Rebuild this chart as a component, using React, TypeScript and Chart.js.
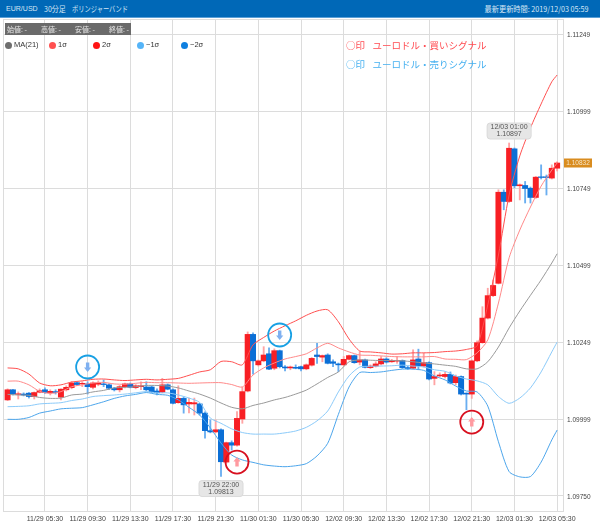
import React, { useEffect, useRef } from "react";
import { Chart, registerables } from "chart.js";

Chart.register(...registerables);

const tickIdx = [7, 15, 23, 31, 39, 47, 55, 63, 71, 79, 87, 95, 103];
const tickLabels = ["11/29 05:30", "11/29 09:30", "11/29 13:30", "11/29 17:30", "11/29 21:30", "11/30 01:30", "11/30 05:30", "12/02 09:30", "12/02 13:30", "12/02 17:30", "12/02 21:30", "12/03 01:30", "12/03 05:30"];
const priceTicks = [1.11249, 1.10999, 1.10749, 1.10499, 1.10249, 1.09999, 1.0975];

const opens = [1.10062,1.10095,1.10080,1.10081,1.10084,1.10073,1.10087,1.10095,1.10086,1.10089,1.10071,1.10095,1.10102,1.10118,1.10114,1.10114,1.10103,1.10113,1.10114,1.10111,1.10100,1.10095,1.10105,1.10114,1.10102,1.10105,1.10104,1.10104,1.10091,1.10087,1.10111,1.10095,1.10053,1.10067,1.10049,1.10049,1.10049,1.10019,1.09962,1.09958,1.09965,1.09860,1.09923,1.09915,1.10000,1.10091,1.10275,1.10176,1.10189,1.10212,1.10165,1.10222,1.10169,1.10166,1.10168,1.10170,1.10163,1.10175,1.10208,1.10201,1.10208,1.10186,1.10179,1.10176,1.10194,1.10206,1.10185,1.10192,1.10167,1.10172,1.10179,1.10195,1.10186,1.10188,1.10190,1.10167,1.10165,1.10195,1.10172,1.10183,1.10132,1.10140,1.10138,1.10145,1.10118,1.10138,1.10084,1.10081,1.10189,1.10248,1.10328,1.10401,1.10441,1.10737,1.10707,1.10878,1.10758,1.10759,1.10750,1.10720,1.10787,1.10787,1.10783,1.10815];
const highs = [1.10098,1.10096,1.10088,1.10085,1.10086,1.10088,1.10098,1.10101,1.10095,1.10095,1.10098,1.10108,1.10122,1.10120,1.10121,1.10121,1.10121,1.10124,1.10127,1.10114,1.10103,1.10109,1.10117,1.10117,1.10112,1.10121,1.10121,1.10108,1.10098,1.10132,1.10114,1.10098,1.10108,1.10072,1.10068,1.10068,1.10051,1.10023,1.09997,1.09997,1.09968,1.09925,1.09929,1.10024,1.10104,1.10283,1.10280,1.10192,1.10235,1.10231,1.10228,1.10224,1.10174,1.10172,1.10176,1.10172,1.10179,1.10200,1.10246,1.10208,1.10212,1.10192,1.10182,1.10203,1.10208,1.10208,1.10219,1.10195,1.10176,1.10186,1.10203,1.10199,1.10194,1.10203,1.10192,1.10172,1.10225,1.10227,1.10214,1.10186,1.10154,1.10150,1.10153,1.10153,1.10143,1.10140,1.10085,1.10192,1.10254,1.10365,1.10425,1.10452,1.10745,1.10745,1.10897,1.10881,1.10764,1.10772,1.10754,1.10788,1.10826,1.10793,1.10826,1.10836];
const lows = [1.10060,1.10078,1.10065,1.10075,1.10068,1.10065,1.10085,1.10083,1.10078,1.10081,1.10062,1.10091,1.10098,1.10108,1.10105,1.10081,1.10098,1.10108,1.10105,1.10095,1.10091,1.10088,1.10101,1.10101,1.10098,1.10095,1.10091,1.10085,1.10078,1.10085,1.10095,1.10049,1.10051,1.10019,1.10020,1.10013,1.10013,1.09938,1.09955,1.09955,1.09813,1.09856,1.09899,1.09912,1.09986,1.10088,1.10146,1.10172,1.10186,1.10160,1.10160,1.10166,1.10156,1.10160,1.10163,1.10156,1.10160,1.10172,1.10181,1.10186,1.10179,1.10170,1.10154,1.10172,1.10192,1.10181,1.10176,1.10166,1.10164,1.10169,1.10176,1.10182,1.10184,1.10181,1.10164,1.10161,1.10163,1.10160,1.10169,1.10127,1.10111,1.10137,1.10133,1.10114,1.10111,1.10078,1.10030,1.10067,1.10186,1.10246,1.10325,1.10398,1.10439,1.10680,1.10704,1.10751,1.10712,1.10702,1.10702,1.10717,1.10780,1.10728,1.10780,1.10806];
const closes = [1.10095,1.10081,1.10082,1.10078,1.10073,1.10086,1.10092,1.10086,1.10090,1.10086,1.10097,1.10103,1.10117,1.10112,1.10116,1.10105,1.10117,1.10116,1.10112,1.10100,1.10095,1.10105,1.10114,1.10103,1.10108,1.10108,1.10095,1.10088,1.10085,1.10111,1.10097,1.10051,1.10067,1.10046,1.10054,1.10053,1.10019,1.09962,1.09958,1.09965,1.09861,1.09923,1.09915,1.10002,1.10089,1.10275,1.10189,1.10189,1.10208,1.10162,1.10222,1.10170,1.10166,1.10169,1.10165,1.10163,1.10176,1.10197,1.10203,1.10206,1.10181,1.10181,1.10176,1.10194,1.10206,1.10183,1.10192,1.10168,1.10172,1.10179,1.10195,1.10185,1.10190,1.10190,1.10167,1.10164,1.10192,1.10173,1.10183,1.10130,1.10138,1.10143,1.10145,1.10117,1.10138,1.10081,1.10081,1.10189,1.10248,1.10328,1.10401,1.10434,1.10737,1.10707,1.10880,1.10758,1.10761,1.10749,1.10720,1.10786,1.10785,1.10785,1.10815,1.10832];

const bandIdx = [0,2,4,6,8,10,12,14,16,18,20,22,24,26,28,30,32,34,36,38,40,42,44,46,48,50,52,54,56,58,60,62,64,66,68,70,72,74,76,78,80,82,84,86,88,90,92,94,96,98,100,102,103];
const ma21 = [1.10080,1.10078,1.10077,1.10070,1.10067,1.10068,1.10078,1.10081,1.10088,1.10093,1.10101,1.10103,1.10105,1.10109,1.10109,1.10107,1.10101,1.10091,1.10081,1.10068,1.10052,1.10038,1.10033,1.10044,1.10052,1.10062,1.10070,1.10081,1.10094,1.10114,1.10135,1.10153,1.10186,1.10192,1.10191,1.10190,1.10190,1.10189,1.10186,1.10182,1.10179,1.10175,1.10171,1.10163,1.10163,1.10186,1.10234,1.10296,1.10351,1.10402,1.10452,1.10507,1.10537];
const plus1 = [1.10123,1.10123,1.10111,1.10090,1.10083,1.10089,1.10105,1.10111,1.10117,1.10119,1.10114,1.10113,1.10116,1.10119,1.10118,1.10118,1.10117,1.10116,1.10117,1.10118,1.10118,1.10112,1.10104,1.10143,1.10166,1.10182,1.10195,1.10203,1.10212,1.10231,1.10246,1.10231,1.10218,1.10208,1.10207,1.10205,1.10203,1.10202,1.10202,1.10202,1.10203,1.10195,1.10194,1.10193,1.10215,1.10257,1.10377,1.10524,1.10614,1.10689,1.10757,1.10809,1.10832];
const plus2 = [1.10166,1.10163,1.10146,1.10117,1.10108,1.10111,1.10120,1.10124,1.10129,1.10130,1.10127,1.10125,1.10127,1.10129,1.10127,1.10129,1.10132,1.10142,1.10153,1.10160,1.10187,1.10186,1.10176,1.10241,1.10265,1.10286,1.10303,1.10319,1.10337,1.10351,1.10355,1.10316,1.10260,1.10221,1.10218,1.10215,1.10211,1.10212,1.10215,1.10215,1.10216,1.10219,1.10221,1.10226,1.10238,1.10371,1.10533,1.10728,1.10855,1.10946,1.11024,1.11096,1.11118];
const minus1 = [1.10040,1.10041,1.10043,1.10049,1.10051,1.10053,1.10060,1.10065,1.10073,1.10076,1.10078,1.10081,1.10085,1.10089,1.10085,1.10085,1.10078,1.10068,1.10054,1.10003,1.09986,1.09968,1.09956,1.09951,1.09951,1.09951,1.09955,1.09961,1.09973,1.09994,1.10026,1.10088,1.10140,1.10169,1.10171,1.10172,1.10173,1.10175,1.10172,1.10169,1.10160,1.10155,1.10140,1.10130,1.10124,1.10111,1.10073,1.10051,1.10068,1.10101,1.10153,1.10218,1.10250];
const minus2 = [1.09999,1.09999,1.10005,1.10019,1.10026,1.10033,1.10035,1.10037,1.10046,1.10056,1.10067,1.10075,1.10080,1.10086,1.10080,1.10077,1.10062,1.10038,1.10013,1.09971,1.09922,1.09883,1.09867,1.09859,1.09851,1.09847,1.09845,1.09848,1.09855,1.09880,1.09921,1.10015,1.10104,1.10151,1.10151,1.10153,1.10158,1.10162,1.10162,1.10158,1.10140,1.10127,1.10107,1.10091,1.10088,1.10042,1.09926,1.09829,1.09812,1.09813,1.09860,1.09932,1.09964];

const buyIdx = [43, 87];
const buyPrice = [1.0986, 1.0999];
const sellIdx = [15, 51];
const sellPrice = [1.10169, 1.10273];
const calloutIdx = [40, 94];
const calloutText = ["11/29 22:00", "12/03 01:00"];

const legendNames = ["MA(21)", "1σ", "2σ", "−1σ", "−2σ"];
const legendColors = ["#6e6e6e", "#ff5050", "#ff1414", "#55b4f8", "#0f80e0"];
const legendDot = [8, 52, 96, 140, 184];
const infoNames = ["始値: -", "高値: -", "安値: -", "終値: -"];
const infoX = [7, 41, 75, 109];

const RED = "#f81f24";
const BLUE = "#0b6fd6";
const RED_WICK = "#ffa4a4";
const BLUE_WICK = "#6aaef0";
const SANS = "'Liberation Sans', 'Noto Sans CJK JP', sans-serif";
const JP = "'Noto Sans CJK JP', 'Liberation Sans', sans-serif";

const bandData = (vals: number[]) => vals.map((y, i) => ({ x: bandIdx[i], y }));

const overlayPlugin = {
  id: "overlay",
  beforeDraw(chart: any) {
    const { ctx, chartArea: a } = chart;
    ctx.save();
    ctx.fillStyle = "#fff";
    ctx.fillRect(0, 0, chart.width, chart.height);
    ctx.strokeStyle = "#dcdcdc";
    ctx.lineWidth = 1;
    ctx.strokeRect(a.left + 0.5, a.top + 0.5, a.right - a.left, a.bottom - a.top);
    ctx.restore();
  },
  afterDraw(chart: any) {
    const { ctx, scales } = chart;
    const px = (v: number) => scales.x.getPixelForValue(v);
    const py = (v: number) => scales.y.getPixelForValue(v);
    ctx.save();
    // arrows in the signal circles
    const arrow = (cx: number, cy: number, dir: number, color: string) => {
      ctx.fillStyle = color;
      ctx.beginPath();
      ctx.moveTo(cx, cy - 5 * dir);
      ctx.lineTo(cx + 3.6, cy - 0.5 * dir);
      ctx.lineTo(cx + 1.7, cy - 0.5 * dir);
      ctx.lineTo(cx + 1.7, cy + 4.5 * dir);
      ctx.lineTo(cx - 1.7, cy + 4.5 * dir);
      ctx.lineTo(cx - 1.7, cy - 0.5 * dir);
      ctx.lineTo(cx - 3.6, cy - 0.5 * dir);
      ctx.closePath();
      ctx.fill();
    };
    buyIdx.forEach((x, i) => arrow(px(x), py(buyPrice[i]), 1, "#ff9aa0"));
    sellIdx.forEach((x, i) => arrow(px(x), py(sellPrice[i]), -1, "#7fb0f0"));

    // callouts at the extreme candles
    const box = (idx: number, label: string, value: number, below: boolean) => {
      const w = 44;
      const h = 16;
      const cx = px(idx);
      const tip = py(value);
      const top = below ? tip + 4 : tip - 4 - h;
      ctx.fillStyle = "#e6e6e6";
      ctx.strokeStyle = "#dadada";
      ctx.lineWidth = 1;
      ctx.beginPath();
      ctx.roundRect(cx - w / 2, top, w, h, 3);
      ctx.fill();
      ctx.stroke();
      ctx.fillStyle = "#555";
      ctx.font = `7px ${SANS}`;
      ctx.textAlign = "center";
      ctx.textBaseline = "middle";
      ctx.fillText(label, cx, top + 4.5);
      ctx.fillText(value.toFixed(5), cx, top + 11.5);
    };
    box(calloutIdx[0], calloutText[0], lows[calloutIdx[0]], true);
    box(calloutIdx[1], calloutText[1], highs[calloutIdx[1]], false);

    // last price tag
    const last = closes[closes.length - 1];
    const ty = py(last);
    ctx.fillStyle = "#d98c1f";
    ctx.fillRect(564, ty - 4.5, 28, 9);
    ctx.fillStyle = "#f6e6c8";
    ctx.font = `6.5px ${SANS}`;
    ctx.textAlign = "center";
    ctx.textBaseline = "middle";
    ctx.fillText(last.toFixed(5), 578, ty + 0.5);
    ctx.restore();
  },
};

export default function App() {
  const ref = useRef<HTMLCanvasElement | null>(null);
  useEffect(() => {
    if (!ref.current) return;
    const up = opens.map((o, i) => closes[i] >= o);
    const line = (label: string, vals: number[], color: string, order: number) => ({
      type: "line" as const,
      label,
      data: bandData(vals),
      borderColor: color,
      borderWidth: 1,
      pointRadius: 0,
      tension: 0.25,
      order,
    });
    const chart = new Chart(ref.current, {
      type: "bar",
      data: {
        datasets: [
          line("MA(21)", ma21, "#9a9a9a", 1),
          line("1σ", plus1, "#ff8a8a", 1),
          line("2σ", plus2, "#ff5050", 1),
          line("-1σ", minus1, "#8ccbfa", 1),
          line("-2σ", minus2, "#4da6ec", 1),
          {
            type: "bar" as const,
            label: "wicks",
            data: opens.map((_, i) => ({ x: i, y: [lows[i], highs[i]] })),
            backgroundColor: up.map((u) => (u ? RED_WICK : BLUE_WICK)),
            barThickness: 1.2,
            grouped: false,
            order: 3,
          },
          {
            type: "bar" as const,
            label: "candles",
            data: opens.map((o, i) => ({ x: i, y: [o, closes[i]] })),
            backgroundColor: up.map((u) => (u ? RED : BLUE)),
            barThickness: 5.3,
            grouped: false,
            order: 2,
          },
          {
            type: "line" as const,
            label: "buy",
            data: buyIdx.map((x, i) => ({ x, y: buyPrice[i] })),
            showLine: false,
            pointStyle: "circle",
            pointRadius: 11.5,
            pointBorderWidth: 1.8,
            pointBorderColor: "#d8101f",
            pointBackgroundColor: "rgba(255,255,255,0)",
            order: 0,
          },
          {
            type: "line" as const,
            label: "sell",
            data: sellIdx.map((x, i) => ({ x, y: sellPrice[i] })),
            showLine: false,
            pointStyle: "circle",
            pointRadius: 11.5,
            pointBorderWidth: 1.8,
            pointBorderColor: "#18a0e4",
            pointBackgroundColor: "rgba(255,255,255,0)",
            order: 0,
          },
        ] as any,
      },
      options: {
        animation: false,
        responsive: false,
        layout: { autoPadding: false, padding: { top: 19, left: 3, right: 0, bottom: 0 } },
        plugins: { legend: { display: false }, tooltip: { enabled: false } },
        scales: {
          x: {
            type: "linear",
            offset: false,
            min: -0.86,
            max: 104.1,
            afterBuildTicks: (s: any) => {
              s.ticks = tickIdx.map((value) => ({ value }));
            },
            afterFit: (s: any) => {
              s.height = 11;
              s.paddingLeft = 0;
              s.paddingRight = 0;
            },
            grid: { color: "#dcdcdc", lineWidth: 1, drawTicks: false, offset: false },
            border: { display: false },
            ticks: {
              autoSkip: false,
              maxRotation: 0,
              padding: 4,
              color: "#444",
              font: { size: 7, family: SANS },
              callback: (v: any) => tickLabels[tickIdx.indexOf(Number(v))] ?? "",
            },
          },
          y: {
            type: "linear",
            position: "right",
            min: 1.09701,
            max: 1.113,
            afterBuildTicks: (s: any) => {
              s.ticks = priceTicks.map((value) => ({ value }));
            },
            afterFit: (s: any) => {
              s.width = 37;
              s.paddingTop = 0;
              s.paddingBottom = 0;
            },
            grid: { color: "#dcdcdc", lineWidth: 1, drawTicks: false },
            border: { display: false },
            ticks: {
              autoSkip: false,
              padding: 4,
              labelOffset: 1,
              color: "#444",
              font: { size: 6.5, family: SANS },
              callback: (v: any) => Number(v).toFixed(5),
            },
          },
        },
      } as any,
      plugins: [overlayPlugin],
    });
    return () => chart.destroy();
  }, []);

  const abs: React.CSSProperties = { position: "absolute", whiteSpace: "nowrap", lineHeight: 1 };
  const head: React.CSSProperties = { ...abs, top: 4.5, color: "#d5e6f5", fontFamily: JP, fontSize: 8 };
  const squeeze = (k: number, origin = "left"): React.CSSProperties => ({ transform: `scaleX(${k})`, transformOrigin: origin });
  return (
    <div style={{ position: "fixed", left: 0, top: 0, width: 600, height: 522, background: "#fff", overflow: "hidden" }}>
      <canvas ref={ref} width={600} height={522} style={{ position: "absolute", left: 0, top: 0, width: 600, height: 522 }} />
      <div style={{ position: "absolute", left: 0, top: 0, width: 600, height: 17, background: "#0068b7", borderBottom: "1px solid #5a9fd6" }}>
        <span style={{ ...head, left: 6, fontFamily: SANS, ...squeeze(0.88) }}>EUR/USD</span>
        <span style={{ ...head, left: 43.5, ...squeeze(0.88) }}>30分足</span>
        <span style={{ ...head, left: 72, ...squeeze(0.78) }}>ボリンジャーバンド</span>
        <span style={{ ...head, right: 11, ...squeeze(0.9, "right") }}>最新更新時間: 2019/12/03 05:59</span>
      </div>
      <div style={{ position: "absolute", left: 5, top: 23, width: 126, height: 12, background: "#6a6a6a" }} />
      {infoNames.map((t, i) => (
        <span key={t} style={{ ...abs, left: infoX[i], top: 25.5, color: "#e8e8e8", fontSize: 7, fontFamily: JP }}>{t}</span>
      ))}
      {legendNames.map((t, i) => (
        <React.Fragment key={t}>
          <span style={{ position: "absolute", left: legendDot[i] - 3.5, top: 41.5, width: 7, height: 7, borderRadius: "50%", background: legendColors[i] }} />
          <span style={{ ...abs, left: legendDot[i] + 6, top: 41, color: "#333", fontSize: 7.5, fontFamily: SANS }}>{t}</span>
        </React.Fragment>
      ))}
      <span style={{ ...abs, left: 346, top: 41, color: "#ff4a50", fontSize: 9.5, fontFamily: JP }}>○印</span>
      <span style={{ ...abs, left: 372.5, top: 41, color: "#ff4a50", fontSize: 9.5, fontFamily: JP }}>ユーロドル・買いシグナル</span>
      <span style={{ ...abs, left: 346, top: 60, color: "#45b0f0", fontSize: 9.5, fontFamily: JP }}>○印</span>
      <span style={{ ...abs, left: 372.5, top: 60, color: "#45b0f0", fontSize: 9.5, fontFamily: JP }}>ユーロドル・売りシグナル</span>
    </div>
  );
}
